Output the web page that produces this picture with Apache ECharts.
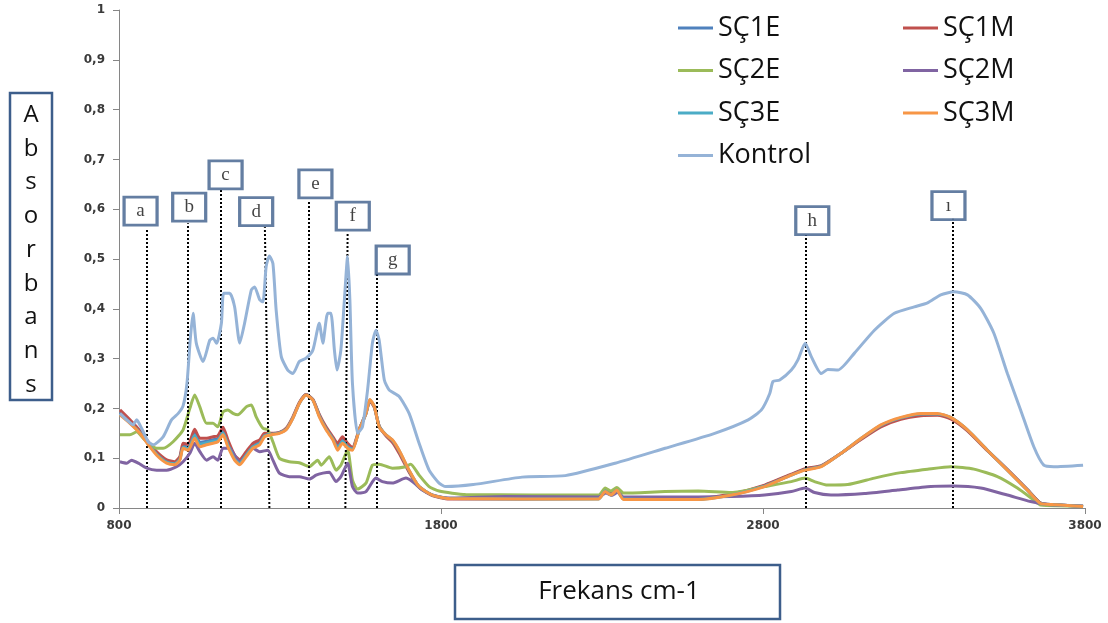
<!DOCTYPE html>
<html>
<head>
<meta charset="utf-8">
<title>Absorbans</title>
<script src="https://cdn.jsdelivr.net/npm/echarts@6/dist/echarts.min.js"></script>
<style>
  html, body { margin: 0; padding: 0; background: #fff; }
  #chart { width: 1108px; height: 623px; }
</style>
</head>
<body>
<div id="chart"></div>
<script>
// spectra: [frequency cm-1, absorbance]
const kontrol = [[803,0.19],[824,0.177],[844,0.167],[855,0.177],[870,0.16],[891,0.133],[906,0.127],[937,0.143],[963,0.177],[984,0.19],[999,0.205],[1011,0.25],[1022,0.344],[1030,0.391],[1040,0.331],[1061,0.294],[1082,0.337],[1092,0.341],[1103,0.331],[1118,0.371],[1125,0.431],[1144,0.431],[1159,0.404],[1175,0.331],[1190,0.371],[1211,0.438],[1221,0.444],[1237,0.418],[1247,0.414],[1257,0.485],[1267,0.506],[1278,0.491],[1288,0.398],[1304,0.304],[1324,0.277],[1340,0.27],[1360,0.294],[1381,0.301],[1402,0.317],[1422,0.371],[1433,0.331],[1448,0.391],[1458,0.391],[1469,0.317],[1477,0.277],[1489,0.317],[1500,0.418],[1510,0.505],[1517,0.418],[1525,0.25],[1541,0.15],[1556,0.163],[1572,0.237],[1587,0.331],[1598,0.357],[1608,0.337],[1624,0.257],[1639,0.237],[1670,0.224],[1701,0.19],[1732,0.13],[1763,0.076],[1794,0.05],[1815,0.043],[1900,0.047],[2052,0.062],[2186,0.065],[2341,0.09],[2496,0.12],[2650,0.15],[2754,0.177],[2795,0.197],[2821,0.23],[2831,0.254],[2852,0.257],[2888,0.277],[2908,0.297],[2931,0.331],[2950,0.304],[2981,0.27],[3001,0.278],[3033,0.277],[3084,0.311],[3146,0.357],[3208,0.391],[3270,0.404],[3311,0.412],[3352,0.428],[3393,0.434],[3435,0.428],[3476,0.401],[3517,0.351],[3559,0.27],[3600,0.197],[3641,0.123],[3672,0.086],[3703,0.083],[3794,0.086]];

const sc2e = [[803,0.147],[834,0.147],[855,0.153],[875,0.14],[896,0.127],[917,0.12],[937,0.12],[968,0.133],[999,0.157],[1020,0.2],[1035,0.227],[1051,0.203],[1072,0.17],[1092,0.17],[1107,0.163],[1123,0.193],[1138,0.197],[1154,0.19],[1169,0.187],[1195,0.203],[1211,0.207],[1226,0.183],[1247,0.16],[1262,0.157],[1278,0.133],[1298,0.1],[1329,0.093],[1360,0.091],[1391,0.083],[1417,0.096],[1428,0.086],[1453,0.103],[1474,0.076],[1489,0.086],[1510,0.116],[1525,0.056],[1541,0.038],[1567,0.05],[1587,0.086],[1608,0.088],[1649,0.08],[1691,0.083],[1706,0.088],[1732,0.066],[1763,0.043],[1794,0.034],[1876,0.027],[2289,0.026],[2310,0.04],[2328,0.034],[2346,0.041],[2367,0.03],[2496,0.033],[2599,0.034],[2702,0.031],[2805,0.043],[2888,0.053],[2931,0.06],[2960,0.053],[3001,0.046],[3063,0.047],[3146,0.06],[3228,0.071],[3311,0.078],[3383,0.083],[3455,0.078],[3528,0.063],[3590,0.04],[3641,0.016],[3662,0.006],[3794,0.004]];

const sc2m = [[803,0.093],[824,0.09],[839,0.096],[860,0.09],[886,0.08],[917,0.076],[948,0.076],[979,0.083],[999,0.093],[1020,0.11],[1035,0.13],[1051,0.113],[1072,0.096],[1092,0.103],[1107,0.096],[1123,0.12],[1144,0.12],[1159,0.106],[1175,0.093],[1195,0.106],[1216,0.12],[1237,0.113],[1262,0.116],[1278,0.096],[1298,0.07],[1329,0.063],[1360,0.063],[1391,0.058],[1412,0.066],[1433,0.07],[1453,0.072],[1474,0.053],[1489,0.063],[1510,0.09],[1525,0.043],[1541,0.03],[1567,0.033],[1598,0.06],[1618,0.053],[1649,0.05],[1691,0.06],[1711,0.053],[1742,0.036],[1773,0.026],[1825,0.02],[2000,0.023],[2289,0.022],[2312,0.03],[2330,0.025],[2348,0.031],[2367,0.022],[2599,0.022],[2702,0.023],[2805,0.026],[2888,0.033],[2931,0.04],[2960,0.031],[3011,0.026],[3115,0.029],[3218,0.036],[3321,0.043],[3393,0.044],[3476,0.04],[3559,0.026],[3631,0.013],[3683,0.007],[3794,0.004]];

const sc3m = [[803,0.187],[834,0.17],[865,0.15],[891,0.127],[917,0.106],[948,0.09],[973,0.087],[989,0.096],[999,0.12],[1015,0.116],[1035,0.14],[1051,0.123],[1072,0.127],[1092,0.13],[1107,0.133],[1123,0.147],[1138,0.123],[1159,0.096],[1175,0.087],[1195,0.103],[1216,0.12],[1237,0.127],[1252,0.143],[1273,0.147],[1298,0.15],[1319,0.157],[1340,0.18],[1360,0.21],[1381,0.227],[1402,0.217],[1422,0.183],[1443,0.157],[1464,0.137],[1479,0.116],[1494,0.13],[1510,0.12],[1525,0.116],[1546,0.157],[1567,0.19],[1579,0.218],[1593,0.204],[1608,0.163],[1629,0.147],[1649,0.137],[1670,0.116],[1701,0.076],[1732,0.043],[1773,0.026],[1825,0.019],[2289,0.018],[2310,0.033],[2328,0.026],[2346,0.036],[2367,0.017],[2599,0.017],[2702,0.026],[2805,0.043],[2888,0.066],[2931,0.076],[2981,0.083],[3043,0.11],[3105,0.14],[3166,0.167],[3228,0.182],[3290,0.19],[3342,0.19],[3383,0.182],[3435,0.157],[3497,0.116],[3559,0.076],[3621,0.036],[3662,0.009],[3700,0.007],[3794,0.003]];

const sc1m = [[803,0.197],[834,0.177],[865,0.155],[891,0.133],[917,0.113],[948,0.097],[973,0.093],[989,0.103],[999,0.13],[1015,0.128],[1035,0.158],[1051,0.14],[1072,0.14],[1092,0.143],[1107,0.145],[1123,0.162],[1138,0.137],[1159,0.106],[1175,0.097],[1195,0.113],[1216,0.13],[1237,0.137],[1252,0.15],[1273,0.15],[1298,0.152],[1319,0.16],[1340,0.183],[1360,0.212],[1381,0.228],[1402,0.218],[1422,0.188],[1443,0.163],[1464,0.143],[1479,0.13],[1494,0.143],[1510,0.13],[1525,0.122],[1546,0.158],[1567,0.19],[1579,0.215],[1593,0.202],[1608,0.165],[1629,0.145],[1649,0.132],[1670,0.11],[1701,0.072],[1732,0.042],[1773,0.025],[1825,0.018],[2289,0.019],[2310,0.036],[2328,0.028],[2346,0.038],[2367,0.02],[2599,0.019],[2702,0.028],[2805,0.046],[2888,0.068],[2931,0.079],[2981,0.085],[3043,0.11],[3105,0.138],[3166,0.163],[3228,0.178],[3290,0.185],[3342,0.186],[3383,0.179],[3435,0.155],[3497,0.115],[3559,0.077],[3621,0.037],[3662,0.01],[3700,0.007],[3794,0.003]];

const sc1e = [[803,0.192],[834,0.173],[865,0.152],[891,0.13],[917,0.11],[948,0.093],[973,0.09],[989,0.1],[999,0.125],[1015,0.122],[1035,0.15],[1051,0.132],[1072,0.134],[1092,0.137],[1107,0.139],[1123,0.155],[1138,0.13],[1159,0.1],[1175,0.092],[1195,0.108],[1216,0.125],[1237,0.132],[1252,0.147],[1273,0.149],[1298,0.151],[1319,0.158],[1340,0.181],[1360,0.211],[1381,0.228],[1402,0.218],[1422,0.186],[1443,0.16],[1464,0.14],[1479,0.123],[1494,0.137],[1510,0.125],[1525,0.119],[1546,0.157],[1567,0.19],[1579,0.216],[1593,0.203],[1608,0.164],[1629,0.146],[1649,0.135],[1670,0.113],[1701,0.074],[1732,0.043],[1773,0.026],[1825,0.019],[2289,0.019],[2310,0.035],[2328,0.027],[2346,0.037],[2367,0.019],[2599,0.018],[2702,0.027],[2805,0.045],[2888,0.067],[2931,0.078],[2981,0.084],[3043,0.11],[3105,0.139],[3166,0.165],[3228,0.18],[3290,0.188],[3342,0.188],[3383,0.181],[3435,0.156],[3497,0.116],[3559,0.077],[3621,0.037],[3662,0.01],[3700,0.007],[3794,0.003]];

const sc3e = [[803,0.189],[834,0.171],[865,0.151],[891,0.128],[917,0.108],[948,0.092],[973,0.089],[989,0.098],[999,0.122],[1015,0.119],[1035,0.146],[1051,0.128],[1072,0.131],[1092,0.134],[1107,0.136],[1123,0.151],[1138,0.127],[1159,0.098],[1175,0.09],[1195,0.106],[1216,0.123],[1237,0.13],[1252,0.145],[1273,0.148],[1298,0.151],[1319,0.158],[1340,0.181],[1360,0.21],[1381,0.227],[1402,0.217],[1422,0.185],[1443,0.159],[1464,0.139],[1479,0.12],[1494,0.134],[1510,0.123],[1525,0.118],[1546,0.157],[1567,0.19],[1579,0.217],[1593,0.204],[1608,0.164],[1629,0.147],[1649,0.136],[1670,0.115],[1701,0.075],[1732,0.043],[1773,0.026],[1825,0.019],[2289,0.018],[2310,0.034],[2328,0.026],[2346,0.036],[2367,0.018],[2599,0.017],[2702,0.026],[2805,0.044],[2888,0.066],[2931,0.077],[2981,0.084],[3043,0.11],[3105,0.14],[3166,0.166],[3228,0.181],[3290,0.189],[3342,0.189],[3383,0.182],[3435,0.157],[3497,0.116],[3559,0.076],[3621,0.036],[3662,0.009],[3700,0.007],[3794,0.003]];

// band markers a..ı
const markerNames = ['a', 'b', 'c', 'd', 'e', 'f', 'g', 'h', 'ı'];
const markerBottom = [887, 1014, 1116, 1267, 1388, 1503, 1599, 2933, 3388];
const markerTopX = [887, 1014, 1116, 1253, 1388, 1510, 1599, 2933, 3388];
const markerTop = [0.558, 0.572, 0.639, 0.564, 0.618, 0.554, 0.472, 0.548, 0.582];
const boxX = [867, 1018, 1131, 1226, 1410, 1526, 1650, 2953, 3376];
const boxY = [0.596, 0.604, 0.669, 0.595, 0.651, 0.586, 0.498, 0.577, 0.607];

const names = ['SÇ1E', 'SÇ1M', 'SÇ2E', 'SÇ2M', 'SÇ3E', 'SÇ3M', 'Kontrol'];
const spectra = [sc1e, sc1m, sc2e, sc2m, sc3e, sc3m, kontrol];
const colors = ['#4F81BD', '#C0504D', '#9BBB59', '#8064A2', '#4BACC6', '#F79646', '#95B3D7'];

const chart = echarts.init(document.getElementById('chart'));

const lineSeries = names.map((n, i) => ({
  name: n,
  type: 'line',
  data: spectra[i],
  smooth: 0.2,
  showSymbol: false,
  symbol: 'none',
  lineStyle: { width: 3, color: colors[i] },
  itemStyle: { color: colors[i] },
  z: 2 + i
}));

const boxColor = '#3d5e8b';
const legendText = { fontFamily: 'Open Sans', fontSize: 27, color: '#111', lineHeight: 30 };
const tickFont = { fontFamily: 'DejaVu Sans', fontWeight: 'bold', fontSize: 12, color: '#3a3a3a' };

const option = {
  animation: false,
  backgroundColor: '#fff',
  grid: { left: 119, right: 23, top: 10, bottom: 115, containLabel: false },
  legend: [
    {
      data: ['SÇ1E', 'SÇ2E', 'SÇ3E', 'Kontrol'],
      orient: 'vertical', left: 673, top: 8, itemGap: 12.5,
      icon: 'rect', itemWidth: 35, itemHeight: 3, textStyle: legendText
    },
    {
      data: ['SÇ1M', 'SÇ2M', 'SÇ3M'],
      orient: 'vertical', left: 898, top: 8, itemGap: 12.5,
      icon: 'rect', itemWidth: 35, itemHeight: 3, textStyle: legendText
    }
  ],
  xAxis: {
    type: 'value', min: 800, max: 3800, interval: 1000,
    splitLine: { show: false },
    axisLine: { show: true, lineStyle: { color: '#868686', width: 1 } },
    axisTick: { show: true, length: 6, lineStyle: { color: '#868686' } },
    axisLabel: Object.assign({ margin: 12, formatter: v => String(v) }, tickFont)
  },
  yAxis: {
    type: 'value', min: 0, max: 1, interval: 0.1,
    splitLine: { show: false },
    axisLine: { show: true, lineStyle: { color: '#868686', width: 1 } },
    axisTick: { show: true, length: 6, lineStyle: { color: '#868686' } },
    axisLabel: Object.assign({
      margin: 14,
      formatter: v => (v === 0 ? '0' : v === 1 ? '1' : v.toFixed(1).replace('.', ','))
    }, tickFont)
  },
  graphic: [
    { type: 'rect', shape: { x: 10, y: 93, width: 42, height: 307 },
      style: { fill: '#fff', stroke: boxColor, lineWidth: 2.5 } },
    { type: 'text', x: 31, y: 250,
      style: { text: 'Absorbans'.split('').join('\n'), font: '24px "Open Sans"', fill: '#111',
               align: 'center', verticalAlign: 'middle', lineHeight: 33.75 } },
    { type: 'rect', shape: { x: 455, y: 565, width: 325, height: 54 },
      style: { fill: '#fff', stroke: boxColor, lineWidth: 2.5 } },
    { type: 'text', x: 619, y: 592,
      style: { text: 'Frekans cm-1', font: '26px "Open Sans"', fill: '#111',
               align: 'center', verticalAlign: 'middle' } }
  ],
  series: lineSeries.concat([{
    name: 'bands',
    type: 'scatter',
    z: 20,
    symbol: 'rect',
    symbolSize: [33, 28],
    itemStyle: { color: '#fff', borderColor: boxColor, borderWidth: 3 },
    label: {
      show: true, position: 'inside', formatter: p => p.data[2],
      fontFamily: 'Liberation Serif', fontSize: 19, color: '#111'
    },
    data: markerNames.map((m, i) => [boxX[i], boxY[i], m]),
    markLine: {
      silent: true,
      symbol: ['none', 'none'],
      label: { show: false },
      lineStyle: { color: '#000', width: 2, type: [2, 2] },
      data: markerNames.map((m, i) => [
        { coord: [markerBottom[i], 0] },
        { coord: [markerTopX[i], markerTop[i]] }
      ])
    }
  }])
};

chart.setOption(option);
</script>
</body>
</html>
